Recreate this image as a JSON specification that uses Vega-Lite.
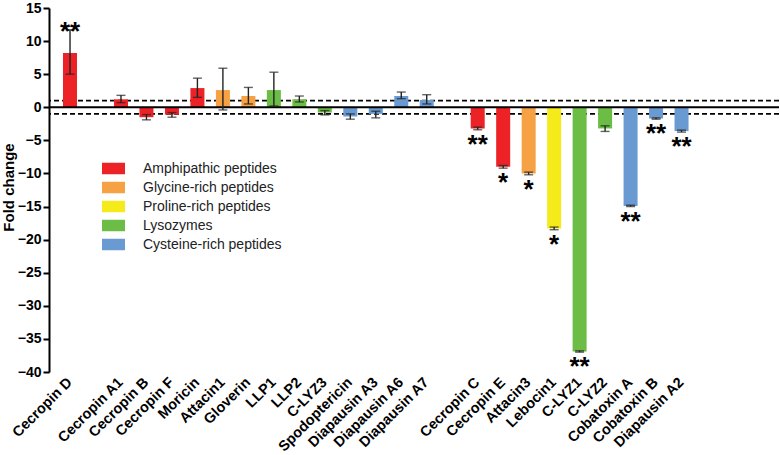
{
  "$schema": "https://vega.github.io/schema/vega-lite/v6.json",
  "autosize": "none",
  "width": 730,
  "height": 364,
  "padding": {"left": 49, "top": 8, "right": 1, "bottom": 83},
  "background": "white",
  "config": {
    "view": {"stroke": null},
    "font": "Liberation Sans",
    "axisY": {
      "labelOverlap": false, "labelFlush": false, "labelBound": false,
      "grid": false, "domainColor": "black", "domainWidth": 2, "tickColor": "black", "tickWidth": 2, "tickSize": 6,
      "labelFont": "Liberation Sans", "labelFontWeight": "bold", "labelFontSize": 14, "labelColor": "black", "labelPadding": 2,
      "titleFont": "Liberation Sans", "titleFontWeight": "bold", "titleFontSize": 15, "titleColor": "black",
      "titleX": -41, "titleY": 179, "titleAngle": -90, "titleAlign": "center", "titleBaseline": "middle"
    }
  },
  "datasets": {
    "bars": [
      {"gene": "Cecropin D", "group": "Amphipathic peptides", "fc": 8.2, "lo": 5.0, "hi": 11.7, "sig": "**"},
      {"gene": "Cecropin A1", "group": "Amphipathic peptides", "fc": 1.2, "lo": 0.7, "hi": 1.8, "sig": ""},
      {"gene": "Cecropin B", "group": "Amphipathic peptides", "fc": -1.5, "lo": -1.9, "hi": -1.1, "sig": ""},
      {"gene": "Cecropin F", "group": "Amphipathic peptides", "fc": -1.1, "lo": -1.5, "hi": -0.8, "sig": ""},
      {"gene": "Moricin", "group": "Amphipathic peptides", "fc": 2.9, "lo": 1.5, "hi": 4.4, "sig": ""},
      {"gene": "Attacin1", "group": "Glycine-rich peptides", "fc": 2.6, "lo": -0.4, "hi": 5.9, "sig": ""},
      {"gene": "Gloverin", "group": "Glycine-rich peptides", "fc": 1.7, "lo": 0.5, "hi": 3.0, "sig": ""},
      {"gene": "LLP1", "group": "Lysozymes", "fc": 2.6, "lo": 0.2, "hi": 5.3, "sig": ""},
      {"gene": "LLP2", "group": "Lysozymes", "fc": 1.2, "lo": 0.8, "hi": 1.7, "sig": ""},
      {"gene": "C-LYZ3", "group": "Lysozymes", "fc": -0.8, "lo": -1.15, "hi": -0.5, "sig": ""},
      {"gene": "Spodoptericin", "group": "Cysteine-rich peptides", "fc": -1.4, "lo": -1.8, "hi": -1.0, "sig": ""},
      {"gene": "Diapausin A3", "group": "Cysteine-rich peptides", "fc": -1.0, "lo": -1.6, "hi": -0.6, "sig": ""},
      {"gene": "Diapausin A6", "group": "Cysteine-rich peptides", "fc": 1.7, "lo": 1.3, "hi": 2.3, "sig": ""},
      {"gene": "Diapausin A7", "group": "Cysteine-rich peptides", "fc": 1.1, "lo": 0.5, "hi": 1.9, "sig": ""},
      {"gene": "Cecropin C", "group": "Amphipathic peptides", "fc": -3.2, "lo": -3.4, "hi": -3.0, "sig": "**"},
      {"gene": "Cecropin E", "group": "Amphipathic peptides", "fc": -9.0, "lo": -9.2, "hi": -8.8, "sig": "*"},
      {"gene": "Attacin3", "group": "Glycine-rich peptides", "fc": -10.0, "lo": -10.2, "hi": -9.8, "sig": "*"},
      {"gene": "Lebocin1", "group": "Proline-rich peptides", "fc": -18.3, "lo": -18.5, "hi": -18.1, "sig": "*"},
      {"gene": "C-LYZ1", "group": "Lysozymes", "fc": -36.9, "lo": -37.0, "hi": -36.8, "sig": "**"},
      {"gene": "C-LYZ2", "group": "Lysozymes", "fc": -3.2, "lo": -3.65, "hi": -2.8, "sig": ""},
      {"gene": "Cobatoxin A", "group": "Cysteine-rich peptides", "fc": -14.9, "lo": -15.0, "hi": -14.8, "sig": "**"},
      {"gene": "Cobatoxin B", "group": "Cysteine-rich peptides", "fc": -1.7, "lo": -1.8, "hi": -1.6, "sig": "**"},
      {"gene": "Diapausin A2", "group": "Cysteine-rich peptides", "fc": -3.6, "lo": -3.75, "hi": -3.45, "sig": "**"}
    ],
    "lines": [
      {"level": 1, "kind": "dash"},
      {"level": -1, "kind": "dash"},
      {"level": 0, "kind": "zero"}
    ]
  },
  "layer": [
    {
      "data": {"name": "lines"},
      "transform": [{"filter": "datum.kind == 'dash'"}],
      "mark": {"type": "rule", "color": "black", "strokeWidth": 1.6, "strokeDash": [5, 3]},
      "encoding": {
        "y": {
          "field": "level", "type": "quantitative",
          "scale": {"domain": [-40, 15], "nice": false, "zero": false},
          "axis": {"title": "Fold change", "tickCount": 11}
        }
      }
    },
    {
      "data": {"name": "bars"},
      "mark": {"type": "bar"},
      "encoding": {
        "x": {
          "field": "gene", "type": "nominal",
          "scale": {
            "domain": ["Cecropin D", "_b1", "Cecropin A1", "Cecropin B", "Cecropin F", "Moricin", "Attacin1", "Gloverin", "LLP1", "LLP2", "C-LYZ3", "Spodoptericin", "Diapausin A3", "Diapausin A6", "Diapausin A7", "_b2", "Cecropin C", "Cecropin E", "Attacin3", "Lebocin1", "C-LYZ1", "C-LYZ2", "Cobatoxin A", "Cobatoxin B", "Diapausin A2", "_b3", "_b4", "_b5"],
            "paddingInner": 0.45, "paddingOuter": 0.55
          },
          "axis": {
            "title": null, "domain": false, "ticks": false, "labelAngle": -45, "labelAlign": "right", "labelBaseline": "middle",
            "labelFont": "Liberation Sans", "labelFontWeight": "bold", "labelFontSize": 14.5, "labelColor": "black", "labelPadding": 8,
            "labelExpr": "indexof(datum.label, '_b') == 0 ? '' : datum.label", "labelOverlap": false, "labelBound": false
          }
        },
        "y": {
          "field": "fc", "type": "quantitative",
          "axis": {"title": "Fold change", "tickCount": 11}
        },
        "color": {
          "field": "group", "type": "nominal",
          "scale": {
            "domain": ["Amphipathic peptides", "Glycine-rich peptides", "Proline-rich peptides", "Lysozymes", "Cysteine-rich peptides"],
            "range": ["#EC2227", "#F7A145", "#F5EB1A", "#6CBD45", "#6A9AD2"]
          },
          "legend": {
            "title": null, "orient": "none", "legendX": 53, "legendY": 149,
            "symbolType": "M-1,-0.5H1V0.5H-1Z", "symbolSize": 529, "symbolStrokeWidth": 0, "symbolOpacity": 1,
            "labelFont": "Liberation Sans", "labelFontSize": 14, "labelColor": "#222", "labelOffset": 18, "rowPadding": -4.3
          }
        }
      }
    },
    {
      "data": {"name": "lines"},
      "transform": [{"filter": "datum.kind == 'zero'"}],
      "mark": {"type": "rule", "color": "black", "strokeWidth": 2},
      "encoding": {"y": {"field": "level", "type": "quantitative", "axis": {"title": "Fold change", "tickCount": 11}}}
    },
    {
      "data": {"name": "bars"},
      "mark": {"type": "rule", "color": "#222", "strokeWidth": 1.4},
      "encoding": {
        "x": {"field": "gene", "type": "nominal"},
        "y": {"field": "lo", "type": "quantitative", "axis": {"title": "Fold change", "tickCount": 11}},
        "y2": {"field": "hi"}
      }
    },
    {
      "data": {"name": "bars"},
      "mark": {"type": "tick", "color": "#222", "thickness": 1.4, "size": 9},
      "encoding": {
        "x": {"field": "gene", "type": "nominal"},
        "y": {"field": "lo", "type": "quantitative", "axis": {"title": "Fold change", "tickCount": 11}}
      }
    },
    {
      "data": {"name": "bars"},
      "mark": {"type": "tick", "color": "#222", "thickness": 1.4, "size": 9},
      "encoding": {
        "x": {"field": "gene", "type": "nominal"},
        "y": {"field": "hi", "type": "quantitative", "axis": {"title": "Fold change", "tickCount": 11}}
      }
    },
    {
      "data": {"name": "bars"},
      "transform": [{"filter": "datum.sig != '' && datum.fc > 0"}],
      "mark": {"type": "text", "font": "Liberation Sans", "fontSize": 26, "fontWeight": "bold", "baseline": "alphabetic", "dy": 10, "color": "black"},
      "encoding": {
        "x": {"field": "gene", "type": "nominal"},
        "y": {"field": "hi", "type": "quantitative", "axis": {"title": "Fold change", "tickCount": 11}},
        "text": {"field": "sig"}
      }
    },
    {
      "data": {"name": "bars"},
      "transform": [{"filter": "datum.sig != '' && datum.fc < 0"}],
      "mark": {"type": "text", "font": "Liberation Sans", "fontSize": 26, "fontWeight": "bold", "baseline": "alphabetic", "dy": 23, "color": "black"},
      "encoding": {
        "x": {"field": "gene", "type": "nominal"},
        "y": {"field": "lo", "type": "quantitative", "axis": {"title": "Fold change", "tickCount": 11}},
        "text": {"field": "sig"}
      }
    }
  ]
}
